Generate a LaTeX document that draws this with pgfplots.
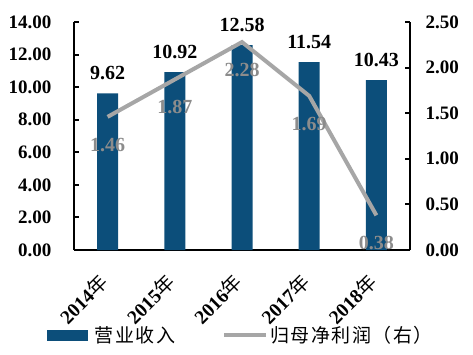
\documentclass[border=0pt]{standalone}
\usepackage{pgfplots}
\pgfplotsset{compat=1.18}
\usepackage{fontspec}
\setmainfont{Liberation Serif}
\newfontfamily\cjk{Noto Sans CJK SC}
\newfontfamily\cjkleg[LetterSpace=8]{Noto Sans CJK SC}
\definecolor{barblue}{RGB}{12,78,122}
\definecolor{linegray}{RGB}{166,166,166}
\definecolor{labgray}{RGB}{140,140,140}
\begin{document}
\begin{tikzpicture}
\path[use as bounding box] (-74pt,-104pt) rectangle (399pt,250pt);
\begin{axis}[
  at={(0,0)}, anchor=south west, scale only axis,
  width=336pt, height=228pt,
  xmin=-0.5, xmax=4.5, ymin=0, ymax=14,
  axis x line*=bottom, axis y line*=left,
  axis line style={line width=2.2pt, black},
  tick align=inside,
  major tick length=5pt,
  tick style={line width=2pt, black},
  ytick={0,2,...,14},
  /pgf/number format/assume math mode=true,
  /pgf/number format/.cd, fixed, fixed zerofill, precision=2, /pgfplots/.cd,
  yticklabel style={font=\bfseries\fontsize{19}{19}\selectfont, xshift=-19pt},
  xtick={0,1,2,3,4},
  xticklabels={{\bfseries 2014}{\cjk 年},{\bfseries 2015}{\cjk 年},{\bfseries 2016}{\cjk 年},{\bfseries 2017}{\cjk 年},{\bfseries 2018}{\cjk 年}},
  xtick style={draw=none},
  xticklabel style={font=\fontsize{19.5}{19.5}\selectfont, xshift=-1pt, yshift=-26pt, rotate=45, anchor=east},
  extra x ticks={0.5,1.5,2.5,3.5},
  extra x tick labels={},
  extra x tick style={tick style={line width=2pt, black}},
  nodes near coords={\pgfmathprintnumber[fixed,fixed zerofill,precision=2]{\pgfplotspointmeta}},
  nodes near coords style={font=\bfseries\fontsize{20}{20}\selectfont, black, anchor=center, yshift=20pt},
]
\addplot[ybar, bar width=21pt, fill=barblue, draw=none] coordinates {(0,9.62) (1,10.92) (2,12.58) (3,11.54) (4,10.43)};
\end{axis}
\begin{axis}[
  at={(0,0)}, anchor=south west, scale only axis,
  width=336pt, height=228pt,
  xmin=-0.5, xmax=4.5, ymin=0, ymax=2.5,
  axis x line=none, axis y line*=right,
  axis line style={line width=2.2pt, black},
  tick align=inside,
  major tick length=5pt,
  tick style={line width=2pt, black},
  ytick={0,0.5,...,2.5},
  /pgf/number format/assume math mode=true,
  /pgf/number format/.cd, fixed, fixed zerofill, precision=2, /pgfplots/.cd,
  yticklabel style={font=\bfseries\fontsize{19}{19}\selectfont, xshift=12pt},
  legend columns=2,
  legend style={draw=none, fill=none, at={(-0.08,-0.373)}, anchor=west,
    font=\cjkleg\fontsize{19}{19}\selectfont, inner sep=0pt,
    /tikz/every even column/.append style={column sep=45pt}},
  legend cell align=left,
]
\addlegendimage{legend image code/.code={\fill[barblue] (0pt,-5pt) rectangle (40pt,5pt);}}
\addlegendentry{\hspace*{5pt}营业收入}
\addplot[line width=4pt, linegray, mark=none,
  nodes near coords={\pgfmathprintnumber[fixed,fixed zerofill,precision=2]{\pgfplotspointmeta}},
  nodes near coords style={font=\bfseries\fontsize{20}{20}\selectfont, labgray, anchor=center, yshift=-28pt},
  legend image code/.code={\draw[line width=4pt, linegray] (0pt,0pt) -- (42pt,0pt);}]
  coordinates {(0,1.46) (1,1.87) (2,2.28) (3,1.69) (4,0.38)};
\addlegendentry{归母净利润（右）}
\end{axis}
\end{tikzpicture}
\end{document}
